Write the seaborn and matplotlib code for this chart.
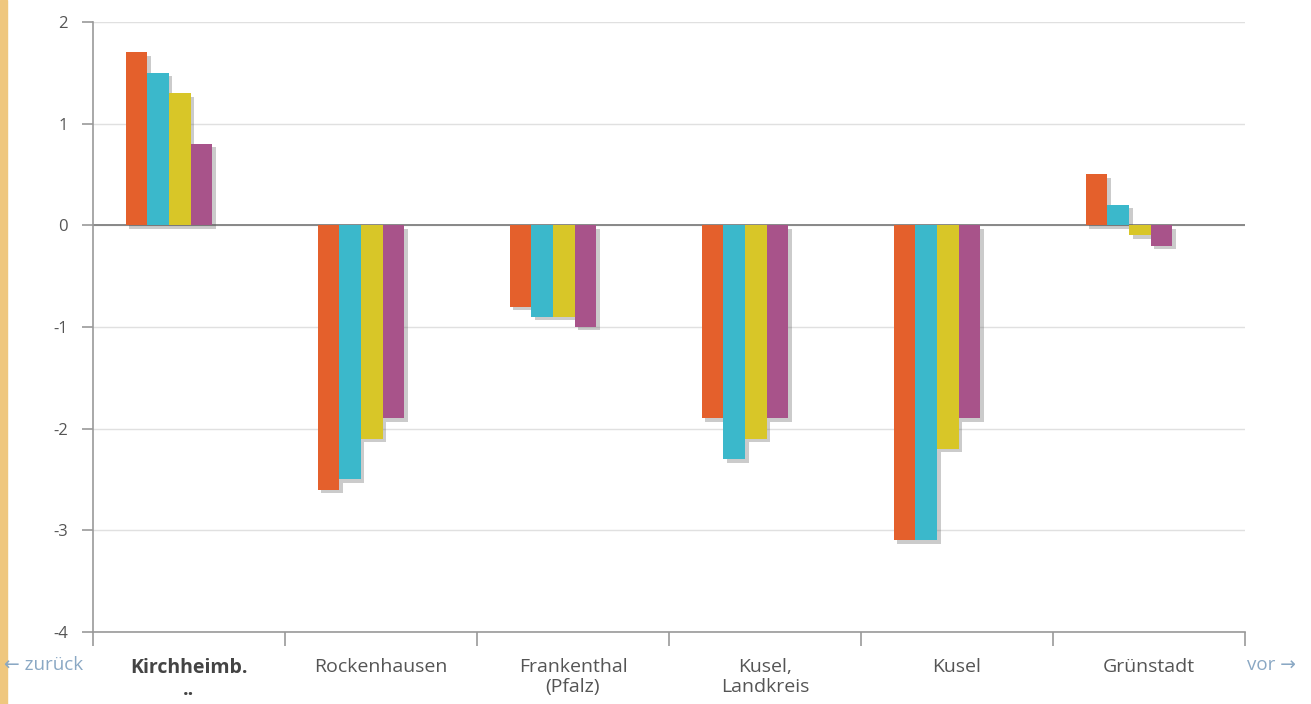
import numpy as np
import pandas as pd
import matplotlib.pyplot as plt
import matplotlib.patheffects as pe
import seaborn as sns

# Data
regions = ["Kirchheimb.\n..", "Rockenhausen", "Frankenthal\n(Pfalz)",
           "Kusel,\nLandkreis", "Kusel", "Grünstadt"]
series = ["S1", "S2", "S3", "S4"]
s1 = [1.7, -2.6, -0.8, -1.9, -3.1, 0.5]
s2 = [1.5, -2.5, -0.9, -2.3, -3.1, 0.2]
s3 = [1.3, -2.1, -0.9, -2.1, -2.2, -0.1]
s4 = [0.8, -1.9, -1.0, -1.9, -1.9, -0.2]
colors = ["#E4602C", "#3BB8CB", "#D8C628", "#A8538A"]

df = pd.DataFrame({
    "region": np.tile(regions, 4),
    "series": np.repeat(series, len(regions)),
    "value": s1 + s2 + s3 + s4,
})

sns.set_style("white")
plt.rcParams['font.family'] = ['Open Sans', 'DejaVu Sans']

fig = plt.figure(figsize=(13.11, 7.04), dpi=100)
ax = fig.add_axes([0.0709, 0.1023, 0.8788, 0.8665])

sns.barplot(data=df, x="region", y="value", hue="series", order=regions,
            hue_order=series, palette=colors, width=0.45, saturation=1,
            legend=False, ax=ax, zorder=3)

# soft drop shadow like the original
shadow = [pe.SimplePatchShadow(offset=(2.5, -2.5), shadow_rgbFace="#555555", alpha=0.3),
          pe.Normal()]
for p in ax.patches:
    p.set_linewidth(0)
    p.set_path_effects(shadow)

ax.set_ylim(-4, 2)
ax.set_xlim(-0.396, 5.604)
ax.set_yticks(range(-4, 3))
ax.set_yticklabels([str(v) for v in range(-4, 3)], color="#555555", fontsize=12)
ax.yaxis.grid(True, color="#E0E0E0", linewidth=1, zorder=0)
ax.axhline(0, color="#808080", linewidth=1.3, zorder=2)

# category labels between boundary ticks
ax.set_xticks(np.arange(len(regions)) + 0.104)
ax.set_xticklabels(regions, fontsize=14, color="#555555", linespacing=1.1)
ax.get_xticklabels()[0].set_fontweight("bold")
ax.get_xticklabels()[0].set_color("#444444")
ax.tick_params(axis="x", which="major", bottom=True, length=0, pad=19)
ax.set_xticks(np.arange(len(regions) + 1) - 0.396, minor=True)
ax.tick_params(axis="x", which="minor", bottom=True, length=10, width=1.2,
               color="#999999", direction="out")
ax.tick_params(axis="y", left=True, length=8, width=1.2, color="#999999",
               direction="out", pad=10)
ax.set_xlabel("")
ax.set_ylabel("")

for side in ["top", "right"]:
    ax.spines[side].set_visible(False)
for side in ["left", "bottom"]:
    ax.spines[side].set_color("#999999")
    ax.spines[side].set_linewidth(1.2)

fig.text(0.003, 1 - 665 / 704, "\u2190 zurück", fontsize=13.5, color="#8AA8C4", va="center")
fig.text(0.951, 1 - 665 / 704, "vor \u2192", fontsize=13.5, color="#8AA8C4", va="center")
fig.patches.append(plt.Rectangle((0, 0), 7 / 1311, 1, transform=fig.transFigure,
                                 color="#EFC77E", zorder=0))

plt.savefig("out.png", dpi=100)
